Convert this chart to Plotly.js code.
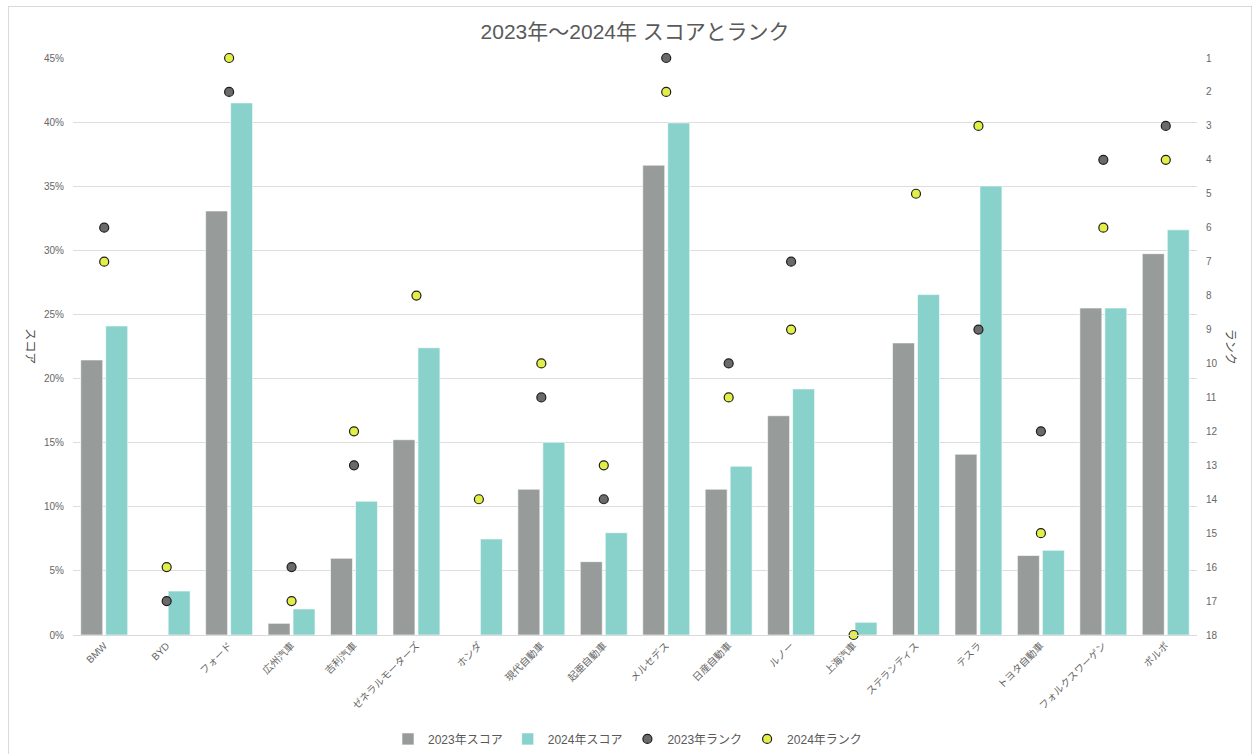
<!DOCTYPE html>
<html>
<head>
<meta charset="utf-8">
<script src="https://cdn.plot.ly/plotly-3.0.1.min.js"></script>
<style>
  html, body { margin: 0; padding: 0; background: #ffffff; }
  #frame { position: absolute; left: 8px; top: 6px; width: 1244px; height: 760px; border: 1px solid #d9d9d9; box-sizing: border-box; }
  #chart { position: absolute; left: 0; top: 0; width: 1255px; height: 754px; }
</style>
</head>
<body>
<div id="frame"></div>
<div id="chart"></div>
<script>
const companies = ["BMW", "BYD", "フォード", "広州汽車", "吉利汽車", "ゼネラルモーターズ", "ホンダ", "現代自動車", "起亜自動車", "メルセデス", "日産自動車", "ルノー", "上海汽車", "ステランティス", "テスラ", "トヨタ自動車", "フォルクスワーゲン", "ボルボ"];
const score2023 = [0.2145, 0, 0.3307, 0.0091, 0.0598, 0.1523, 0, 0.1137, 0.0572, 0.3664, 0.1137, 0.1710, 0, 0.2278, 0.1410, 0.0620, 0.2550, 0.2974];
const score2024 = [0.2410, 0.0343, 0.4150, 0.0203, 0.1043, 0.2240, 0.0749, 0.1503, 0.0798, 0.3994, 0.1316, 0.1919, 0.0099, 0.2655, 0.3502, 0.0660, 0.2550, 0.3160];
const rank2023 = [6, 17, 2, 16, 13, null, null, 11, 14, 1, 10, 7, null, null, 9, 12, 4, 3];
const rank2024 = [7, 16, 1, 17, 12, 8, 14, 10, 13, 2, 11, 9, 18, 5, 3, 15, 6, 4];
const seriesNames = ["2023年スコア", "2024年スコア", "2023年ランク", "2024年ランク"];
const titleText = "2023年～2024年 スコアとランク";

const FONT = "Liberation Sans, Arial, 'Noto Sans CJK JP', sans-serif";

const traces = [
  { type: "bar", name: seriesNames[0], x: companies, y: score2023,
    marker: { color: "#979c9b", line: { color: "#ffffff", width: 0.6 } }, hoverinfo: "none" },
  { type: "bar", name: seriesNames[1], x: companies, y: score2024,
    marker: { color: "#89d2cc", line: { color: "#ffffff", width: 0.6 } }, hoverinfo: "none" },
  { type: "scatter", mode: "markers", name: seriesNames[2], x: companies, y: rank2023, yaxis: "y2", cliponaxis: false,
    marker: { color: "#6a6a6a", size: 9, line: { color: "#1e1e1e", width: 1.2 } }, hoverinfo: "none" },
  { type: "scatter", mode: "markers", name: seriesNames[3], x: companies, y: rank2024, yaxis: "y2", cliponaxis: false,
    marker: { color: "#e2ef47", size: 9, line: { color: "#1e1e1e", width: 1.2 } }, hoverinfo: "none" }
];

const layout = {
  width: 1255, height: 754,
  paper_bgcolor: "rgba(0,0,0,0)", plot_bgcolor: "rgba(0,0,0,0)",
  margin: { l: 73, r: 58, t: 58, b: 119 },
  font: { family: FONT, color: "#666666", size: 11 },
  title: { text: titleText, x: 0.5, xref: "paper", y: 0.958, yref: "container", yanchor: "middle",
    font: { family: FONT, size: 21, color: "#595959" } },
  barmode: "group", bargap: 0.2, bargroupgap: 0.12,
  showlegend: true,
  legend: { orientation: "h", x: 0.5, xanchor: "center", xref: "container", y: 0.02, yref: "container", yanchor: "middle",
    font: { family: FONT, size: 12, color: "#595959" }, itemwidth: 30, tracegroupgap: 0 },
  xaxis: { type: "category", range: [-0.5, 17.5], autorange: false, tickangle: -45, tickfont: { size: 10, color: "#666666" },
    showline: true, linecolor: "#d9d9d9", linewidth: 1, ticks: "", showgrid: false },
  yaxis: { range: [0, 0.45], dtick: 0.05, tickformat: ".0%", showgrid: true, gridcolor: "#dddddd", gridwidth: 1,
    zeroline: false, showline: false, ticks: "", tickfont: { size: 10, color: "#666666" }, ticklabelstandoff: 8 },
  yaxis2: { overlaying: "y", side: "right", range: [18, 1], dtick: 1, tick0: 1, showgrid: false, zeroline: false,
    showline: false, ticks: "", tickfont: { size: 10, color: "#666666" }, ticklabelstandoff: 8 },
  annotations: [
    { text: "スコア", textangle: 90, xref: "paper", yref: "paper", x: -0.038, y: 0.5, xanchor: "center", yanchor: "middle",
      showarrow: false, font: { family: FONT, size: 12, color: "#4d4d4d" } },
    { text: "ランク", textangle: 90, xref: "paper", yref: "paper", x: 1.03, y: 0.5, xanchor: "center", yanchor: "middle",
      showarrow: false, font: { family: FONT, size: 12, color: "#4d4d4d" } }
  ]
};

Plotly.newPlot("chart", traces, layout, { displayModeBar: false, staticPlot: true });
</script>
</body>
</html>
